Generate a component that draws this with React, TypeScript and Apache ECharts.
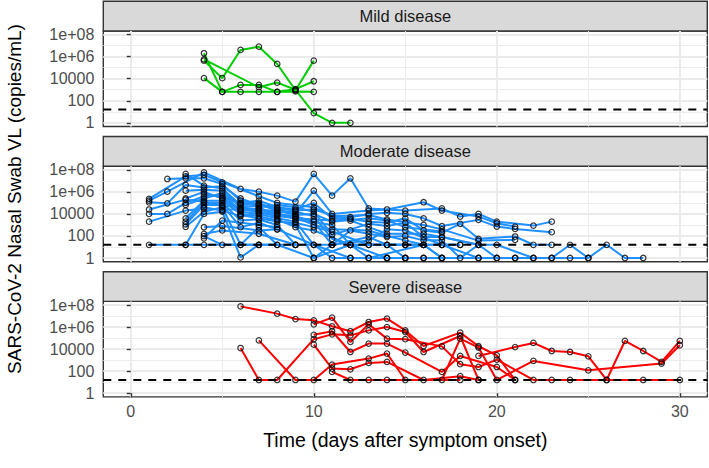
import React, { useEffect, useRef } from 'react';
import * as echarts from 'echarts';

// ---- data (viral load as log10 copies/mL, day after symptom onset) ----
const panelTitles = ['Mild disease', 'Moderate disease', 'Severe disease'];
const xTicks = [0, 10, 20, 30];
const xMinorTicks = [5, 15, 25];
const yTicks = [0, 2, 4, 6, 8];
const yTickLabels = ['1', '100', '10000', '1e+06', '1e+08'];
const yMinorTicks = [1, 3, 5, 7];
const LOD = 1.2;

const mild: number[][][] = [
  [[4, 5.64], [5, 4.05], [6, 6.61], [7, 6.91], [8, 5.34], [9, 2.95], [10, 5.64]],
  [[4, 6.31], [5, 2.81], [6, 3.44], [7, 3.44], [8, 2.81], [9, 3.05], [10, 3.77]],
  [[4, 4.05], [5, 2.81], [6, 2.81], [7, 2.81], [8, 2.81], [9, 2.85], [10, 2.81]],
  [[4, 5.75], [7, 3.23], [8, 3.65], [9, 3.0], [10, 0.88], [11, 0], [12, 0]],
];

const moderate: number[][][] = [
  [[1, 5.36], [3, 7.41], [4, 7.54], [5, 6.87], [7, 5.6], [8, 5.0], [10, 4.6], [11, 3.8], [13, 3.9], [14, 3.5], [16, 3.0], [17, 2.6], [19, 1.58], [21, 1.65]],
  [[1, 5.2], [2, 6.02], [4, 7.77], [6, 6.27], [7, 6.02], [8, 5.66], [9, 5.12], [10, 7.63], [11, 5.66], [12, 7.23], [13, 4.5], [15, 4.3], [17, 4.5], [18, 3.76], [19, 4.0], [20, 3.3], [22, 2.94], [23, 3.3]],
  [[1, 5.05], [2, 4.96], [3, 6.63], [4, 6.39], [5, 6.5], [6, 5.4], [7, 4.8], [8, 4.4], [9, 4.0], [10, 6.11], [11, 4.0], [13, 4.3], [14, 4.4], [16, 5.06], [17, 4.3], [19, 3.76], [20, 3.15], [21, 2.85]],
  [[1, 4.0], [2, 4.0], [3, 5.0], [4, 5.6], [5, 5.66], [6, 5.0], [7, 5.2], [8, 4.6], [9, 4.4], [10, 5.0], [11, 3.6], [12, 3.7], [13, 4.0], [14, 4.1], [15, 4.0], [16, 3.6], [17, 2.9], [19, 3.46], [20, 2.85], [21, 2.64], [23, 2.34]],
  [[1, 3.3], [3, 4.3], [4, 4.5], [5, 4.4], [6, 4.4], [7, 4.2], [8, 3.8], [9, 3.6], [10, 3.5], [11, 3.4], [12, 3.55], [13, 3.3], [14, 3.2], [15, 3.6], [16, 2.5], [17, 2.3], [18, 3.1], [19, 1.74], [21, 1.95], [22, 1.2], [23, 1.2]],
  [[1, 1.2], [3, 1.2], [4, 1.2], [6, 1.2], [7, 1.2]],
  [[2, 7.17], [3, 7.23], [4, 7.23], [5, 6.7], [6, 5.2], [7, 4.6], [8, 4.8], [9, 4.6], [10, 4.2], [11, 2.1], [13, 3.1], [14, 2.9], [15, 3.2], [16, 1.9], [17, 1.9], [19, 1.2], [20, 0], [21, 0], [23, 0], [24, 0], [25, 0]],
  [[3, 7.63], [4, 6.57], [5, 6.3], [6, 4.8], [7, 5.0], [8, 4.2], [9, 4.2], [10, 3.8], [11, 1.74], [12, 1.2], [13, 1.2], [14, 1.2], [15, 1.2], [16, 1.2], [17, 1.2], [18, 1.2]],
  [[3, 6.11], [4, 6.2], [5, 6.1], [6, 4.6], [7, 4.4], [8, 4.0], [9, 3.8], [10, 3.3], [11, 1.2], [12, 2.5], [13, 2.2], [14, 1.9], [15, 2.0], [16, 1.6], [17, 1.6], [18, 0], [19, 1.2], [20, 1.2], [22, 0], [23, 0], [24, 1.2], [25, 0], [26, 1.2], [27, 0], [28, 0]],
  [[3, 4.82], [4, 5.4], [5, 5.9], [6, 4.2], [7, 4.0], [8, 3.6], [9, 3.3], [10, 1.2], [11, 0], [12, 0], [13, 0], [14, 0], [15, 0], [16, 0], [17, 0], [19, 0], [20, 0], [21, 0], [22, 0]],
  [[3, 3.6], [4, 5.2], [5, 5.2], [6, 4.0], [7, 3.8], [8, 3.4], [9, 3.0], [10, 0], [11, 1.2], [13, 1.58], [14, 2.6], [15, 2.5], [17, 1.2], [19, 0]],
  [[3, 3.3], [4, 5.0], [5, 5.0], [6, 3.4], [7, 3.5], [8, 3.0], [9, 1.2], [11, 1.2], [13, 1.9], [14, 1.2], [15, 1.2], [17, 1.2], [18, 1.2]],
  [[3, 3.06], [4, 4.8], [5, 4.8], [6, 2.8], [7, 3.2], [8, 2.6], [10, 1.2], [12, 0], [14, 0], [15, 0]],
  [[3, 2.83], [4, 4.2], [5, 4.6], [6, 1.2], [7, 2.8], [8, 1.2], [10, 0], [12, 1.2], [13, 0], [16, 1.2], [17, 0]],
  [[3, 1.2], [4, 4.0], [5, 4.2], [6, 0.05], [7, 1.2], [9, 1.2]],
  [[4, 2.79], [5, 2.9], [7, 2.5], [8, 2.6]],
  [[4, 2.19], [5, 2.5], [7, 2.2], [9, 1.2]],
  [[4, 1.98], [5, 1.2], [7, 1.2], [8, 1.2]],
  [[4, 1.79], [5, 3.4], [7, 3.0], [8, 2.8]],
  [[3, 5.4], [4, 6.0], [5, 5.4], [6, 4.5], [7, 4.3], [8, 4.3], [9, 3.9], [10, 4.0], [11, 3.3], [13, 3.6], [14, 3.4], [15, 2.8], [17, 2.4]],
  [[4, 5.8], [5, 5.5], [6, 4.9], [7, 4.9], [8, 4.5], [9, 4.3], [10, 4.4], [12, 3.4], [13, 2.8], [14, 2.2], [16, 2.2], [17, 1.9], [19, 1.2]],
  [[4, 4.6], [5, 4.3], [6, 3.8], [7, 4.1], [8, 3.9], [9, 3.7], [10, 3.0], [11, 2.6], [13, 2.5], [14, 2.0], [15, 1.6], [16, 1.2], [17, 0]],
  [[5, 5.3], [6, 4.3], [7, 4.5], [8, 4.1], [9, 3.5], [11, 3.0], [12, 1.2], [14, 1.2], [15, 0], [16, 0]],
  [[6, 3.9], [7, 3.6], [8, 3.3], [9, 3.2], [10, 2.8], [11, 2.4], [13, 1.2], [15, 1.2], [16, 1.2]],
  [[1, 4.4], [3, 5.3], [4, 5.1], [5, 4.7], [7, 4.7], [8, 3.5], [9, 2.8], [10, 2.5], [12, 1.2], [14, 0]],
];

const severe: number[][][] = [
  [[6, 7.88], [8, 7.22], [9, 6.73], [10, 6.61], [11, 6.07], [12, 5.62], [13, 6.46], [14, 6.77], [15, 5.7], [16, 4.28], [18, 5.5], [19, 4.26], [20, 3.44], [21, 1.2]],
  [[6, 4.1], [7, 1.2], [8, 1.2], [10, 4.9], [11, 5.34], [12, 5.25], [13, 5.7], [14, 6.0], [15, 5.55], [16, 3.74], [18, 5.19], [19, 1.2]],
  [[7, 4.8], [9, 1.2], [10, 1.2], [11, 2.6], [13, 3.14], [14, 3.6], [15, 1.2], [17, 1.2], [18, 4.95], [19, 4.14], [20, 1.2], [22, 2.93], [25, 2.08], [29, 2.69], [30, 4.35]],
  [[10, 6.25], [11, 6.86], [12, 4.65], [13, 6.25], [14, 4.95], [15, 4.9], [17, 4.25], [18, 2.63], [19, 2.38], [20, 3.05], [22, 1.2], [23, 1.2], [24, 1.2], [26, 1.2], [28, 1.2], [30, 1.2]],
  [[10, 5.3], [11, 5.62], [12, 3.74], [13, 4.5], [14, 4.5], [15, 3.69], [17, 1.93], [18, 3.38], [20, 2.38], [21, 1.2]],
  [[10, 4.4], [11, 2.24], [12, 2.17], [13, 2.75], [14, 2.84], [16, 1.2], [18, 1.54], [19, 1.2]],
  [[11, 1.93], [12, 1.2], [13, 1.2], [14, 1.2], [18, 1.2]],
  [[19, 3.38], [21, 4.19], [22, 4.56], [23, 3.83], [24, 3.74], [25, 3.35], [26, 1.2], [27, 4.74], [28, 3.83], [29, 2.84], [30, 4.74]],
];

// ---- layout / style ----
const X_MIN = -1.5;
const X_MAX = 31.5;
const Y_MIN = -0.335;
const Y_MAX = 8.33;
const GRID_LEFT = 103.3;
const GRID_WIDTH = 604;
const PANEL_TOP0 = 31;
const PANEL_PITCH = 135.2;
const PANEL_H = 95.5;
const STRIP_H = 29.7;
const lineColors = ['#00CD00', '#1E90FF', '#FF0000'];
const FONT = '"Liberation Sans", Arial, Helvetica, sans-serif';

function buildOption() {
  const groups = [mild, moderate, severe];
  const grid: any[] = [];
  const xAxis: any[] = [];
  const yAxis: any[] = [];
  const series: any[] = [];
  const graphic: any[] = [];
  const tickStyle = { color: '#333333', width: 1.4 };

  groups.forEach((patients, i) => {
    const top = PANEL_TOP0 + i * PANEL_PITCH;
    const isBottom = i === groups.length - 1;
    grid.push({
      left: GRID_LEFT, top, width: GRID_WIDTH, height: PANEL_H,
      show: true, borderColor: '#333333', borderWidth: 1.4, backgroundColor: '#FFFFFF',
    });
    xAxis.push({
      gridIndex: i, type: 'value', min: X_MIN, max: X_MAX, position: 'bottom',
      axisLine: { show: false },
      axisTick: { show: isBottom, customValues: xTicks, length: 4, lineStyle: tickStyle },
      axisLabel: { show: isBottom, customValues: xTicks, color: '#4D4D4D', fontSize: 16, margin: 7, fontFamily: FONT },
      splitLine: { show: true, lineStyle: { color: '#EBEBEB', width: 1.9 } },
      name: isBottom ? 'Time (days after symptom onset)' : '',
      nameLocation: 'middle', nameGap: 33,
      nameTextStyle: { color: '#000000', fontSize: 19.5, fontFamily: FONT },
    });
    xAxis.push({
      gridIndex: i, type: 'value', min: X_MIN, max: X_MAX, position: 'bottom',
      axisLine: { show: false },
      axisTick: { show: false, customValues: xMinorTicks },
      axisLabel: { show: false, customValues: xMinorTicks },
      splitLine: { show: true, lineStyle: { color: '#EBEBEB', width: 0.95 } },
    });
    yAxis.push({
      gridIndex: i, type: 'value', min: Y_MIN, max: Y_MAX, position: 'left',
      axisLine: { show: false },
      axisTick: { show: true, customValues: yTicks, length: 4, lineStyle: tickStyle },
      axisLabel: {
        customValues: yTicks, color: '#4D4D4D', fontSize: 16, margin: 9, fontFamily: FONT,
        formatter: (v: number) => {
          const k = yTicks.findIndex((t) => Math.abs(t - v) < 1e-6);
          return k >= 0 ? yTickLabels[k] : '';
        },
      },
      splitLine: { show: true, lineStyle: { color: '#EBEBEB', width: 1.9 } },
    });
    yAxis.push({
      gridIndex: i, type: 'value', min: Y_MIN, max: Y_MAX, position: 'left',
      axisLine: { show: false },
      axisTick: { show: false, customValues: yMinorTicks },
      axisLabel: { show: false, customValues: yMinorTicks },
      splitLine: { show: true, lineStyle: { color: '#EBEBEB', width: 0.95 } },
    });

    const xi = 2 * i;
    const yi = 2 * i;
    patients.forEach((p) => {
      series.push({
        type: 'line', xAxisIndex: xi, yAxisIndex: yi, data: p,
        symbol: 'none', showSymbol: false, silent: true, z: 2,
        lineStyle: { color: lineColors[i], width: 2 },
      });
    });
    series.push({
      type: 'line', xAxisIndex: xi, yAxisIndex: yi,
      data: [[X_MIN, LOD], [X_MAX, LOD]],
      symbol: 'none', showSymbol: false, silent: true, z: 5,
      lineStyle: { color: '#000000', width: 2, type: [8, 7] },
    });
    series.push({
      type: 'scatter', xAxisIndex: xi, yAxisIndex: yi,
      data: patients.flat(),
      symbol: 'circle', symbolSize: 5.5, silent: true, z: 10,
      itemStyle: { color: 'rgba(0,0,0,0)', borderColor: '#000000', borderWidth: 1.2 },
    });

    graphic.push({
      type: 'rect', silent: true,
      shape: { x: GRID_LEFT, y: top - STRIP_H, width: GRID_WIDTH, height: STRIP_H },
      style: { fill: '#D9D9D9', stroke: '#333333', lineWidth: 1.4 },
    });
    graphic.push({
      type: 'text', silent: true,
      x: GRID_LEFT + GRID_WIDTH / 2, y: top - STRIP_H / 2,
      style: {
        text: panelTitles[i], fill: '#1A1A1A', font: `16.5px ${FONT}`,
        align: 'center', verticalAlign: 'middle',
      },
    });
  });

  graphic.push({
    type: 'text', silent: true, x: 14, y: 199, rotation: Math.PI / 2,
    style: {
      text: 'SARS-CoV-2 Nasal Swab VL (copies/mL)', fill: '#000000', font: `19px ${FONT}`,
      align: 'center', verticalAlign: 'middle',
    },
  });

  return { animation: false, backgroundColor: '#FFFFFF', grid, xAxis, yAxis, series, graphic };
}

export default function App() {
  const ref = useRef<HTMLDivElement>(null);
  useEffect(() => {
    if (!ref.current) return;
    const chart = echarts.init(ref.current, undefined, { renderer: 'svg' });
    chart.setOption(buildOption() as any);
    return () => chart.dispose();
  }, []);
  return <div ref={ref} style={{ position: 'absolute', left: 0, top: 0, width: 709, height: 468 }} />;
}
